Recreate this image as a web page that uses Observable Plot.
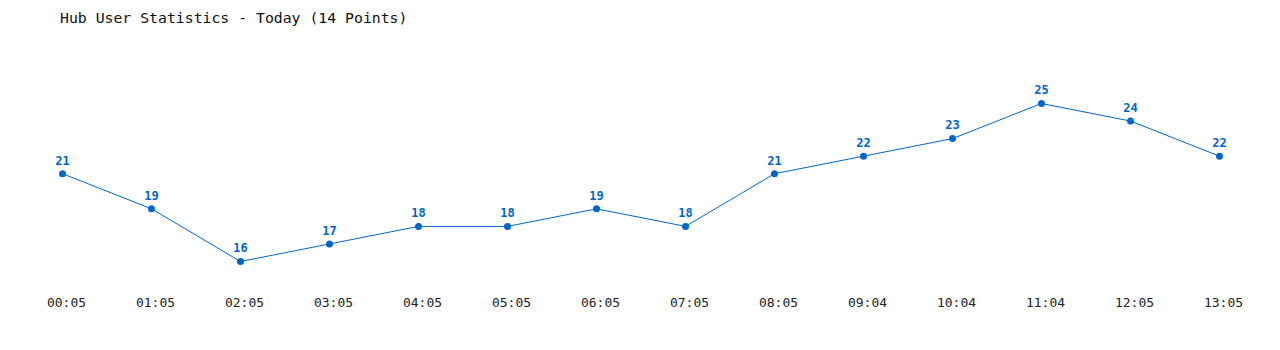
<!DOCTYPE html>
<html>
<head>
<meta charset="utf-8">
<script src="https://cdn.jsdelivr.net/npm/d3@7"></script>
<script src="https://cdn.jsdelivr.net/npm/@observablehq/plot@0.6"></script>
<style>
  html, body { margin: 0; padding: 0; background: #fff; }
  #wrap { position: relative; width: 1280px; height: 350px; }
  #title { position: absolute; left: 60px; top: 9px; font-family: "DejaVu Sans Mono", monospace; font-size: 14.8px; color: #111; white-space: nowrap; }
</style>
</head>
<body>
<div id="wrap">
  <div id="title">Hub User Statistics - Today (14 Points)</div>
  <div id="chart"></div>
</div>
<script>
const times = ["00:05","01:05","02:05","03:05","04:05","05:05","06:05","07:05","08:05","09:04","10:04","11:04","12:05","13:05"];
const users = [21,19,16,17,18,18,19,18,21,22,23,25,24,22];

const data = times.map((t, i) => ({time: t, users: users[i]}));
const color = "#0066cc";
const font = "DejaVu Sans Mono, monospace";

const chart = Plot.plot({
  width: 1280,
  height: 350,
  marginLeft: 61,
  marginRight: 60,
  marginTop: 103,
  marginBottom: 89,
  style: {fontFamily: font, background: "#fff"},
  x: {type: "point", domain: times, padding: 0, label: null},
  y: {domain: [16, 25], axis: null},
  marks: [
    Plot.axisX({tickSize: 0, tickPadding: 36, fontSize: 13, dx: 4, fill: "#222", label: null, fontFamily: font}),
    Plot.line(data, {x: "time", y: "users", stroke: color, strokeWidth: 1}),
    Plot.dot(data, {x: "time", y: "users", fill: color, r: 3.5}),
    Plot.text(data, {x: "time", y: "users", text: d => String(d.users), dy: -13, fill: color, fontWeight: "bold", fontSize: 12, fontFamily: font})
  ]
});
document.getElementById("chart").appendChild(chart);
</script>
</body>
</html>
